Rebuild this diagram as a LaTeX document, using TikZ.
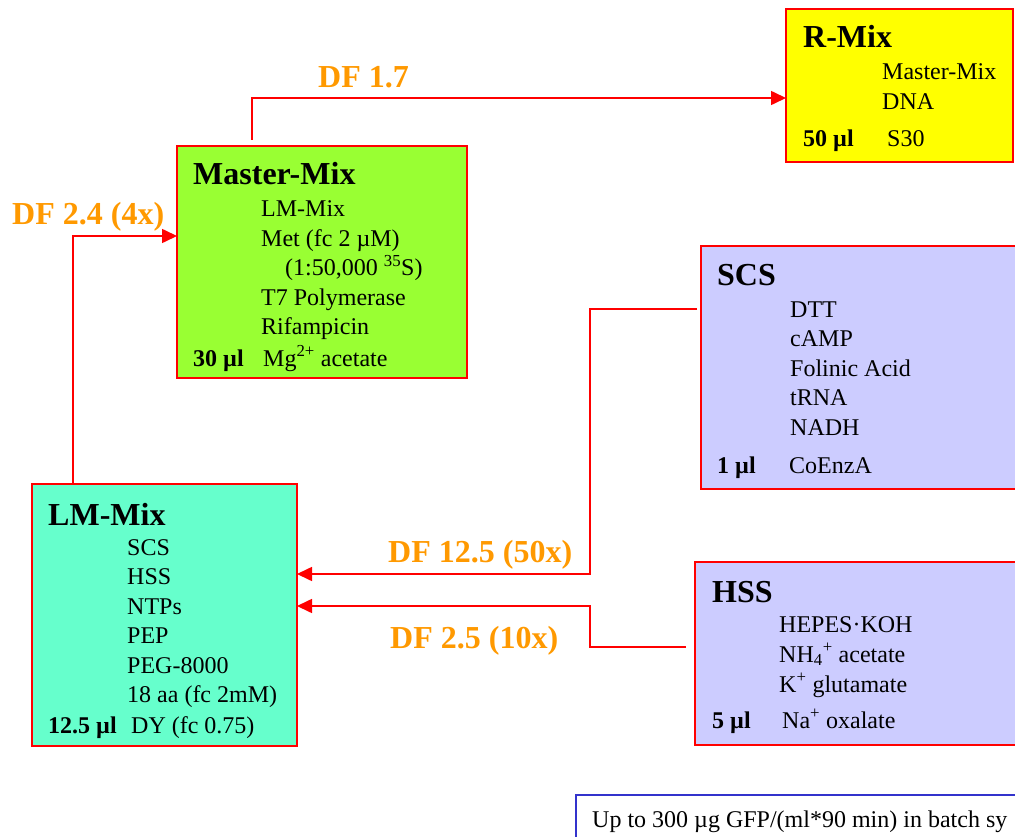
\documentclass[tikz,border=0pt]{standalone}
\usepackage{fontspec}
\setmainfont{Liberation Serif}
\usetikzlibrary{arrows.meta}

\definecolor{boxred}{RGB}{255,0,0}
\definecolor{mastergreen}{RGB}{153,255,51}
\definecolor{lmcyan}{RGB}{102,255,204}
\definecolor{rmixyellow}{RGB}{255,255,0}
\definecolor{solblue}{RGB}{204,204,255}
\definecolor{noteblue}{RGB}{51,51,204}
\definecolor{dforange}{RGB}{255,153,0}

\tikzset{
  mixbox/.style={draw=boxred, line width=1.5pt, anchor=north west, inner sep=0pt, outer sep=0pt},
  boxtitle/.style={anchor=base west, inner sep=0pt, font=\fontsize{32}{38}\selectfont\bfseries},
  boxitem/.style={anchor=base west, inner sep=0pt, font=\fontsize{24}{29}\selectfont},
  boxvol/.style={anchor=base west, inner sep=0pt, font=\fontsize{24}{29}\selectfont\bfseries},
  flow/.style={draw=boxred, line width=1.6pt, -{Triangle[length=15pt,width=14pt]}},
  dflabel/.style={anchor=base west, inner sep=0pt, text=dforange, font=\fontsize{32}{38}\selectfont\bfseries},
}

\begin{document}
\begin{tikzpicture}[x=1pt,y=-1pt]
  \useasboundingbox (0,0) rectangle (1015,837);
  \clip (0,0) rectangle (1015,837);

  % boxes
  \node[mixbox, fill=rmixyellow, minimum width=227pt, minimum height=153pt] (rmix) at (786,9) {};
  \node[mixbox, fill=mastergreen, minimum width=290pt, minimum height=232pt] (master) at (177,146) {};
  \node[mixbox, fill=solblue, minimum width=340pt, minimum height=243pt] (scs) at (701,246) {};
  \node[mixbox, fill=lmcyan, minimum width=265pt, minimum height=262pt] (lmmix) at (32,484) {};
  \node[mixbox, fill=solblue, minimum width=340pt, minimum height=183pt] (hss) at (695,562) {};
  \node[mixbox, draw=noteblue, fill=white, minimum width=460pt, minimum height=80pt] (note) at (576,795) {};

  % R-Mix
  \node[boxtitle] (rmix-t) at (803,48) {R-Mix};
  \foreach \t [count=\i] in {Master-Mix, DNA} {
    \node[boxitem] (rmix-\i) at (882,{80+29.5*(\i-1)}) {\t};
  }
  \node[boxvol] (rmix-v) at (803,147) {50 µl};
  \node[boxitem] (rmix-l) at (887,147) {S30};

  % Master-Mix
  \node[boxtitle] (master-t) at (193,185) {Master-Mix};
  \foreach \t [count=\i] in {LM-Mix, Met (fc 2 µM), {\hspace*{24pt}(1:50,000 \textsuperscript{35}S)}, T7 Polymerase, Rifampicin} {
    \node[boxitem] (master-\i) at (261,{216.5+29.6*(\i-1)}) {\t};
  }
  \node[boxvol] (master-v) at (193,366) {30 µl};
  \node[boxitem] (master-l) at (263,366) {Mg\textsuperscript{2+} acetate};

  % SCS
  \node[boxtitle] (scs-t) at (717,285) {SCS};
  \foreach \t [count=\i] in {DTT, cAMP, Folinic Acid, tRNA, NADH} {
    \node[boxitem] (scs-\i) at (790,{317+29.5*(\i-1)}) {\t};
  }
  \node[boxvol] (scs-v) at (717,473) {1 µl};
  \node[boxitem] (scs-l) at (789,473) {CoEnzA};

  % LM-Mix
  \node[boxtitle] (lmmix-t) at (48,525) {LM-Mix};
  \foreach \t [count=\i] in {SCS, HSS, NTPs, PEP, PEG-8000, 18 aa (fc 2mM)} {
    \node[boxitem] (lmmix-\i) at (127,{555+29.5*(\i-1)}) {\t};
  }
  \node[boxvol] (lmmix-v) at (48,733) {12.5 µl};
  \node[boxitem] (lmmix-l) at (131,733) {DY (fc 0.75)};

  % HSS
  \node[boxtitle] (hss-t) at (712,602) {HSS};
  \foreach \t [count=\i] in {HEPES·KOH, NH\textsubscript{4}\textsuperscript{+} acetate, K\textsuperscript{+} glutamate} {
    \node[boxitem] (hss-\i) at (779,{632+30*(\i-1)}) {\t};
  }
  \node[boxvol] (hss-v) at (712,728) {5 µl};
  \node[boxitem] (hss-l) at (782,728) {Na\textsuperscript{+} oxalate};

  % yield note
  \node[boxitem] (note-t) at (592,827) {Up to 300 µg GFP/(ml*90 min) in batch sy};

  % connectors
  \coordinate (bend) at (590,0);
  \coordinate (scs-out) at ([xshift=-4pt,yshift=58.5pt]scs.west);
  \coordinate (hss-out) at ([xshift=-9pt,yshift=6.5pt]hss.west);
  \draw[flow] ([xshift=75pt,yshift=6pt]master.north west) |- ([yshift=-12.5pt]rmix.west);
  \draw[flow] ([xshift=41pt]lmmix.north west) |- ([yshift=26pt]master.west);
  \draw[flow] (scs-out) -- (bend |- scs-out) |- ([yshift=41pt]lmmix.east);
  \draw[flow] (hss-out) -- (bend |- hss-out) |- ([yshift=9pt]lmmix.east);

  % dilution factors
  \node[dflabel] (df-rmix) at (318,88) {DF 1.7};
  \node[dflabel] (df-master) at (12,225) {DF 2.4 (4x)};
  \node[dflabel] (df-scs) at (388,562) {DF 12.5 (50x)};
  \node[dflabel] (df-hss) at (390,648) {DF 2.5 (10x)};
\end{tikzpicture}
\end{document}
